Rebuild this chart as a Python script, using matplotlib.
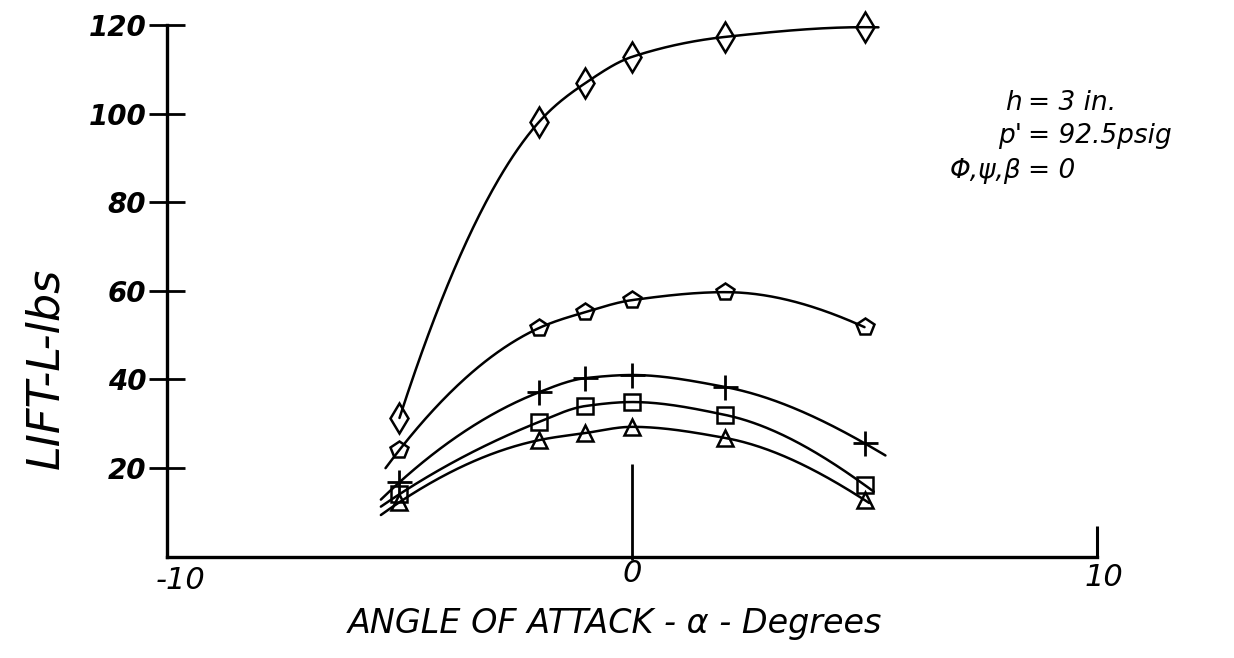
import numpy as np
import matplotlib
matplotlib.use("Agg")
import matplotlib.pyplot as plt

# angle of attack (deg) at which each run was taken
alpha = [-5, -2, -1, 0, 2, 5]

# lift (lbs) for each run series
lift_diamond = [31.3, 98.1, 106.9, 112.8, 117.3, 119.5]
lift_pentagon = [24.1, 51.6, 55.2, 57.9, 59.7, 51.8]
lift_plus = [16.8, 37.1, 40.3, 41.0, 38.3, 25.6]
lift_square = [14.1, 30.4, 34.0, 34.9, 32.0, 16.2]
lift_triangle = [12.3, 26.3, 27.9, 29.3, 26.8, 12.8]

y_ticks = [20, 40, 60, 80, 100, 120]
x_ticks = [-10, 0, 10]
x_tick_labels = ["-10", "0", "10"]


def end_slope(h0, h1, d0, d1):
    m = ((2 * h0 + h1) * d0 - h0 * d1) / (h0 + h1)
    if np.sign(m) != np.sign(d0):
        return 0.0
    if np.sign(d0) != np.sign(d1) and abs(m) > 3 * abs(d0):
        return 3 * d0
    return m


def pchip(x, y, xs):
    """Shape-preserving cubic through (x, y), evaluated (and extended) at xs."""
    x = np.asarray(x, float)
    y = np.asarray(y, float)
    h = np.diff(x)
    d = np.diff(y) / h
    m = np.zeros(len(x))
    for i in range(1, len(x) - 1):
        if d[i - 1] * d[i] > 0:
            w1 = 2 * h[i] + h[i - 1]
            w2 = h[i] + 2 * h[i - 1]
            m[i] = (w1 + w2) / (w1 / d[i - 1] + w2 / d[i])
    m[0] = end_slope(h[0], h[1], d[0], d[1])
    m[-1] = end_slope(h[-1], h[-2], d[-1], d[-2])
    k = np.clip(np.searchsorted(x, xs) - 1, 0, len(x) - 2)
    t = (xs - x[k]) / h[k]
    h00 = 2 * t ** 3 - 3 * t ** 2 + 1
    h10 = t ** 3 - 2 * t ** 2 + t
    h01 = -2 * t ** 3 + 3 * t ** 2
    h11 = t ** 3 - t ** 2
    return h00 * y[k] + h10 * h[k] * m[k] + h01 * y[k + 1] + h11 * h[k] * m[k + 1]


fig = plt.figure(figsize=(12.34, 6.58), dpi=100)
ax = fig.add_axes([0.1353, 0.154, 0.7537, 0.835])

series = [
    (lift_diamond, "d", 15, 0.0, 0.3),
    (lift_pentagon, "p", 13, 0.3, 0.0),
    (lift_plus, "+", 18, 0.4, 0.45),
    (lift_square, "s", 12, 0.4, 0.2),
    (lift_triangle, "^", 12, 0.4, 0.1),
]
for lift, marker, size, ext_lo, ext_hi in series:
    xs = np.linspace(alpha[0] - ext_lo, alpha[-1] + ext_hi, 300)
    ax.plot(xs, pchip(alpha, lift, xs), color="black", lw=1.8,
            solid_capstyle="round")
    ax.plot(alpha, lift, linestyle="none", marker=marker, markersize=size,
            markerfacecolor="none", markeredgecolor="black",
            markeredgewidth=2.0 if marker == "+" else 1.8, clip_on=False)

# reference line dropped to the zero-angle mark
ax.vlines(0, -0.8, 21, color="black", lw=2.0, clip_on=False)

ax.set_xlim(-10, 10)
ax.set_ylim(0, 124)
for side in ("top", "right"):
    ax.spines[side].set_visible(False)
ax.spines["left"].set_bounds(0, 120)
ax.spines["bottom"].set_bounds(-10, 10)
ax.spines["left"].set_linewidth(2.4)
ax.spines["bottom"].set_linewidth(2.4)

ax.set_yticks(y_ticks)
ax.set_yticklabels([str(v) for v in y_ticks], fontsize=20,
                   fontstyle="italic", fontweight="bold")
ax.tick_params(axis="y", direction="inout", length=26, width=2.0, pad=2)

# only the far end of the angle axis carries a tick mark
ax.xaxis.remove_overlapping_locs = False
ax.set_xticks([])
ax.set_xticks([x_ticks[-1]], minor=True)
ax.tick_params(axis="x", which="minor", direction="in", length=22, width=2.2)
label_offsets = [(0.3, -5.3), (0.0, -3.7), (0.15, -4.8)]
for v, lab, (dx, yv) in zip(x_ticks, x_tick_labels, label_offsets):
    ax.text(v + dx, yv, lab, fontsize=22, fontstyle="italic",
            ha="center", va="center", clip_on=False)

fig.text(0.037, 0.44, "LIFT-L-lbs", rotation=90, fontsize=32,
         fontstyle="italic", ha="center", va="center")
fig.text(0.498, 0.052, "ANGLE OF ATTACK - \u03b1 - Degrees", fontsize=24,
         fontstyle="italic", ha="center", va="center")

# test conditions
conditions = [("h", "= 3 in.", 0.843), ("p'", "= 92.5psig", 0.793),
              ("\u03a6,\u03c8,\u03b2", "= 0", 0.740)]
for left, right, yf in conditions:
    fig.text(0.828, yf, left, fontsize=19, fontstyle="italic",
             ha="right", va="center")
    fig.text(0.833, yf, right, fontsize=19, fontstyle="italic",
             ha="left", va="center")

fig.savefig("out.png", dpi=100)
